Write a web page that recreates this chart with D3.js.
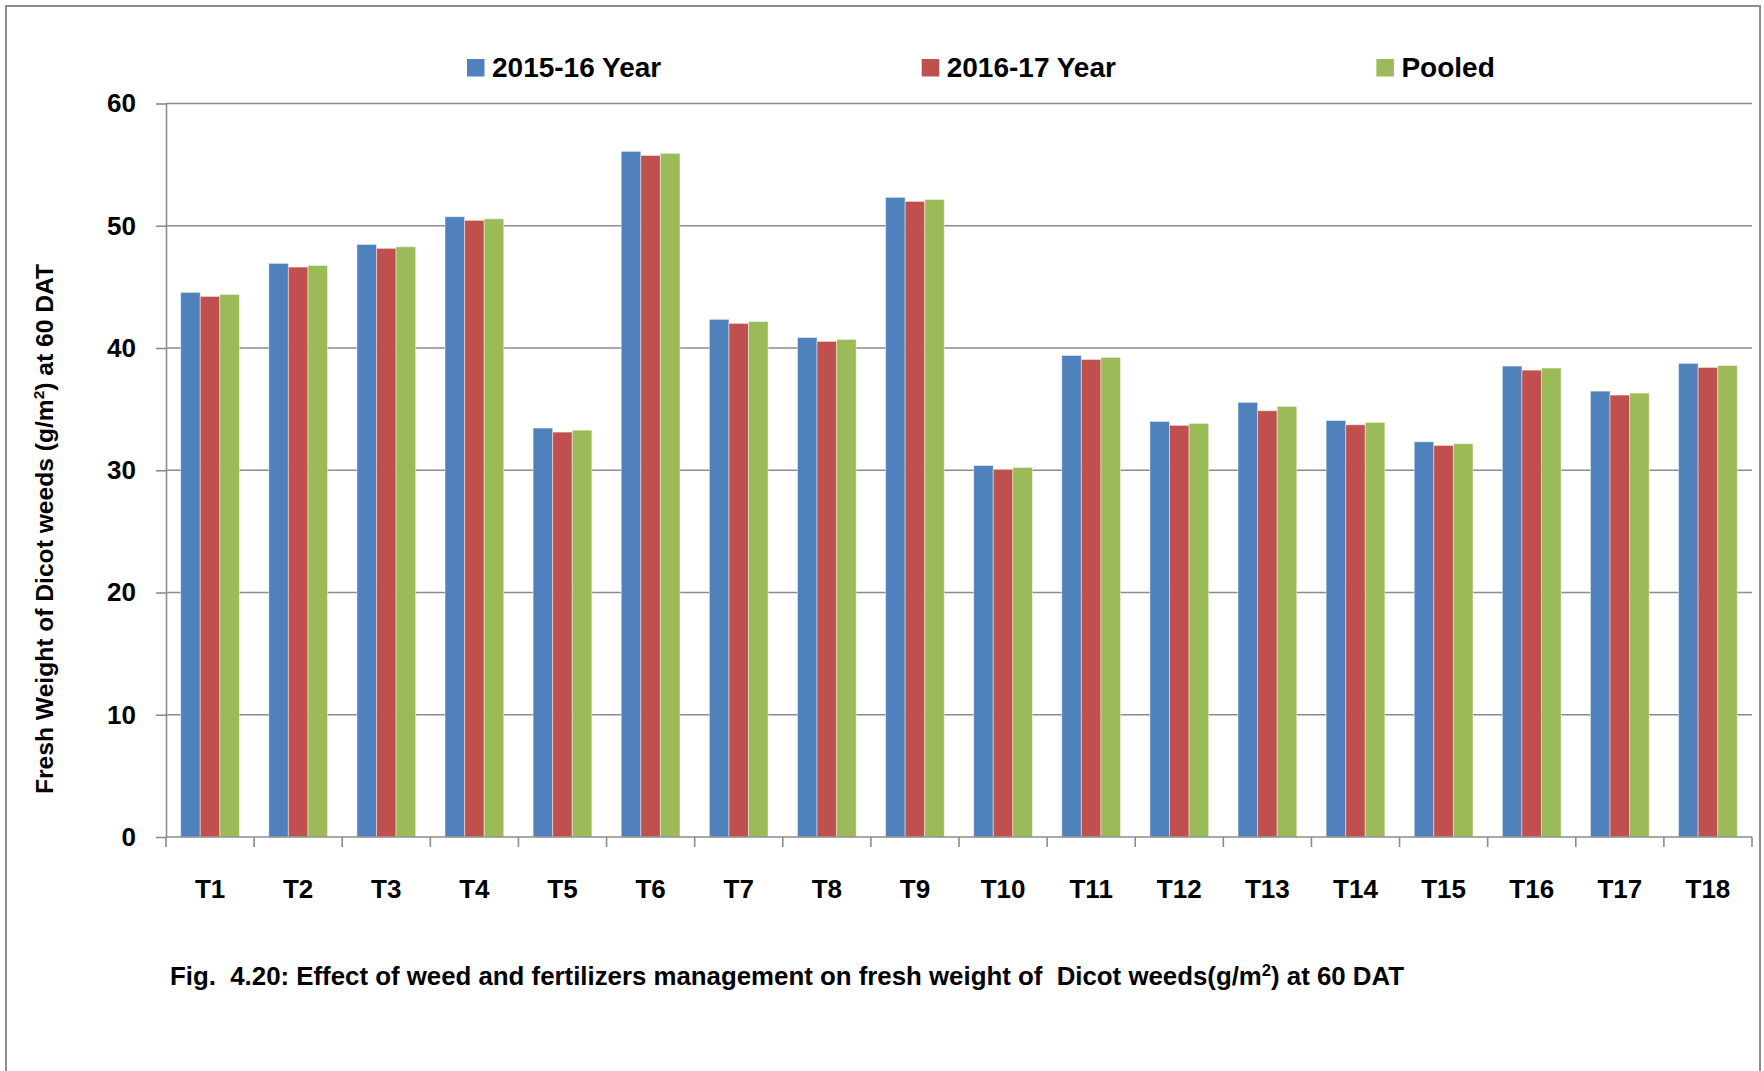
<!DOCTYPE html>
<html lang="en">
<head>
  <meta charset="UTF-8">
  <title>Fresh weight of Dicot weeds at 60 DAT</title>
  <style>
    body {
      margin: 0;
      background-color: #fff;
      font-family: "Liberation Sans", Arial, sans-serif;
    }
    text {
      font-weight: bold;
      fill: #000;
    }
    .caption {
      white-space: pre;
    }
    .grid line {
      stroke: #8c8c8c;
      stroke-width: 1.6;
    }
    .axis path, .axis line {
      stroke: #8c8c8c;
      stroke-width: 1.6;
    }
  </style>
</head>
<body>
  <svg id="chart" width="1764" height="1071"></svg>
  <script src="https://d3js.org/d3.v7.min.js"></script>
  <script>
    const categories = ['T1', 'T2', 'T3', 'T4', 'T5', 'T6', 'T7', 'T8', 'T9',
      'T10', 'T11', 'T12', 'T13', 'T14', 'T15', 'T16', 'T17', 'T18'];
    const seriesNames = ['2015-16 Year', '2016-17 Year', 'Pooled'];
    const year1516 = [44.55, 46.92, 48.47, 50.74, 33.45, 56.08, 42.34, 40.86, 52.32,
      30.39, 39.39, 33.99, 35.55, 34.07, 32.33, 38.52, 36.47, 38.74];
    const year1617 = [44.22, 46.62, 48.15, 50.44, 33.12, 55.75, 42.01, 40.54, 51.99,
      30.07, 39.06, 33.67, 34.87, 33.72, 32.03, 38.19, 36.15, 38.41];
    const pooled = [44.38, 46.75, 48.28, 50.57, 33.28, 55.92, 42.17, 40.70, 52.15,
      30.23, 39.23, 33.83, 35.22, 33.91, 32.17, 38.36, 36.31, 38.57];
    const yTicks = [0, 10, 20, 30, 40, 50, 60];
    const colors = ['#4f81bd', '#c0504d', '#9bbb59'];

    const margin = { top: 103.5, right: 12, bottom: 234, left: 166 };
    const width = 1764 - margin.left - margin.right;
    const height = 1071 - margin.top - margin.bottom;

    const svg = d3.select('#chart');

    // outer frame
    svg.append('rect')
      .attr('x', 6)
      .attr('y', 6)
      .attr('width', 1754)
      .attr('height', 1100)
      .attr('fill', 'none')
      .attr('stroke', '#8c8c8c')
      .attr('stroke-width', 2);

    const g = svg.append('g')
      .attr('transform', `translate(${margin.left}, ${margin.top})`);

    const xScale = d3.scaleBand()
      .domain(categories)
      .range([0, width]);

    const xSub = d3.scaleBand()
      .domain(seriesNames)
      .range([0, xScale.bandwidth()])
      .paddingOuter(0.75);

    const yScale = d3.scaleLinear()
      .domain([0, 60])
      .range([height, 0]);

    g.append('g')
      .attr('class', 'grid')
      .selectAll('line')
      .data(yTicks.filter(d => d > 0))
      .enter()
      .append('line')
      .attr('x1', 0)
      .attr('x2', width)
      .attr('y1', d => yScale(d))
      .attr('y2', d => yScale(d));

    const rows = categories.map((c, i) => ({
      cat: c,
      values: [year1516[i], year1617[i], pooled[i]]
    }));

    const groups = g.selectAll('.group')
      .data(rows)
      .enter()
      .append('g')
      .attr('class', 'group')
      .attr('transform', d => `translate(${xScale(d.cat)}, 0)`);

    groups.selectAll('rect')
      .data(d => d.values.map((v, k) => ({ key: seriesNames[k], value: v, k: k })))
      .enter()
      .append('rect')
      .attr('x', d => xSub(d.key))
      .attr('width', xSub.bandwidth())
      .attr('y', d => yScale(d.value))
      .attr('height', d => height - yScale(d.value))
      .attr('fill', d => colors[d.k])
      .attr('stroke', 'rgba(255,255,255,0.45)')
      .attr('stroke-width', 1);

    // x axis
    const xAxis = g.append('g')
      .attr('class', 'axis')
      .attr('transform', `translate(0, ${height})`);
    xAxis.append('line')
      .attr('x1', 0)
      .attr('x2', width)
      .attr('y1', 0)
      .attr('y2', 0);
    xAxis.selectAll('.tick-mark')
      .data(d3.range(categories.length + 1))
      .enter()
      .append('line')
      .attr('x1', i => i * xScale.step())
      .attr('x2', i => i * xScale.step())
      .attr('y1', 0)
      .attr('y2', 10);
    xAxis.selectAll('.cat-label')
      .data(categories)
      .enter()
      .append('text')
      .attr('x', d => xScale(d) + xScale.bandwidth() / 2)
      .attr('y', 61)
      .attr('text-anchor', 'middle')
      .style('font-size', '26px')
      .text(d => d);

    // y axis
    g.append('g')
      .attr('class', 'axis')
      .call(d3.axisLeft(yScale).tickValues(yTicks).tickSize(10).tickSizeOuter(0).tickPadding(20))
      .call(ax => ax.selectAll('text')
        .style('font-size', '26px')
        .style('font-family', '"Liberation Sans", Arial, sans-serif'));

    // y axis title
    const yTitle = svg.append('text')
      .attr('transform', 'translate(53, 529) rotate(-90)')
      .attr('text-anchor', 'middle')
      .style('font-size', '24px');
    yTitle.append('tspan').text('Fresh Weight of Dicot weeds (g/m');
    yTitle.append('tspan').attr('dy', -9).style('font-size', '15px').text('2');
    yTitle.append('tspan').attr('dy', 9).text(') at 60 DAT');
    yTitle.attr('textLength', 530).attr('lengthAdjust', 'spacingAndGlyphs');

    // legend
    const legend = svg.append('g')
      .selectAll('g')
      .data(seriesNames)
      .enter()
      .append('g')
      .attr('transform', (d, i) => `translate(${467 + i * 454.7}, 0)`);
    legend.append('rect')
      .attr('x', 0)
      .attr('y', 59)
      .attr('width', 17.5)
      .attr('height', 17.5)
      .attr('fill', (d, i) => colors[i]);
    legend.append('text')
      .attr('x', 25)
      .attr('y', 77)
      .style('font-size', '28px')
      .text(d => d);

    // caption
    const caption = svg.append('text')
      .attr('class', 'caption')
      .attr('x', 170)
      .attr('y', 985)
      .style('font-size', '25px');
    caption.append('tspan').text('Fig.  4.20: Effect of weed and fertilizers management on fresh weight of  Dicot weeds(g/m');
    caption.append('tspan').attr('dy', -9).style('font-size', '16px').text('2');
    caption.append('tspan').attr('dy', 9).text(') at 60 DAT');
    caption.attr('textLength', 1234).attr('lengthAdjust', 'spacingAndGlyphs');
  </script>
</body>
</html>
